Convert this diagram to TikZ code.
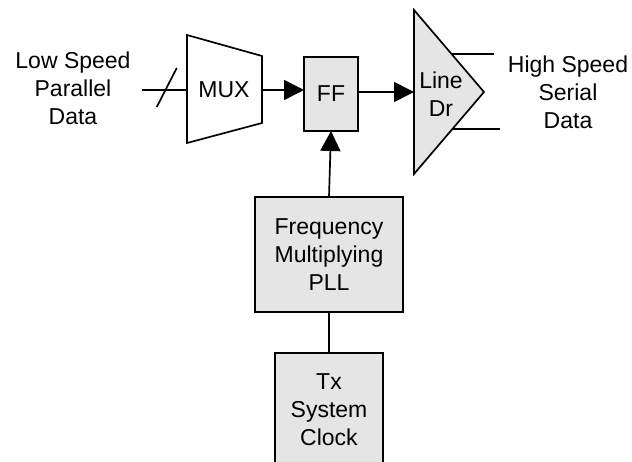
\documentclass[tikz,border=0pt]{standalone}
\usepackage{fontspec}
\setmainfont{Liberation Sans}
\usetikzlibrary{arrows.meta,calc}
\definecolor{boxgray}{gray}{0.9}
\begin{document}
\begin{tikzpicture}[x=1pt, y=-1pt, line width=1.7pt,
    font=\fontsize{23}{28}\selectfont,
    txt/.style={align=center, inner sep=0pt},
    blk/.style={draw, fill=boxgray, align=center, inner sep=0pt, outer sep=0pt},
    arr/.style={-{Triangle[length=20pt, width=20pt]}}]
        \clip (0,0) rectangle (632,462);
        % mux and line driver outlines
        \draw (187,35) -- (262,56) -- (262,123) -- (187,143) -- cycle;
        \draw[fill=boxgray] (414,10) coordinate (ldrA) -- (484,92) coordinate (ldrtip)
             -- (414,174) coordinate (ldrB) -- cycle;
        \node[txt] (mux) at (224,90) {MUX};
        \node[txt] (ldr) at (441,94) {Line\\Dr};
        \coordinate (muxin) at (187,90);
        \coordinate (muxout) at (262,90);
        \coordinate (ldrin) at (414,92);
        \coordinate (datain) at (142,90);
        % blocks
        \node[blk, minimum width=54, minimum height=74] (ff) at (331,94) {FF};
        \node[blk, minimum width=148, minimum height=115] (pll) at (329,254.5)
            {Frequency\\Multiplying\\PLL};
        \node[blk, minimum width=108, minimum height=114] (tx) at (329,410)
            {Tx\\System\\Clock};
        \node[txt] (lowtxt) at (73,88) {Low Speed\\Parallel\\Data};
        \node[txt] (hightxt) at (568,92) {High Speed\\Serial\\Data};
        % connectors
        \draw (datain) -- (muxin);
        \draw ($(datain)!0.55!(muxin)$) +(-10,17) -- +(10,-22);
        \draw[arr] (muxout) -- (muxout -| ff.west);
        \draw[arr] (ff.east |- ldrin) -- (ldrin);
        \draw ($(ldrA)!0.537!(ldrtip)$) -- ++(42,0) coordinate (outa);
        \draw ($(ldrB)!0.55!(ldrtip)$) -- ++(47,0) coordinate (outb);
        \draw[arr] (pll.north) -- (ff.south);
        \draw (tx.north) -- (pll.south);
\end{tikzpicture}
\end{document}
